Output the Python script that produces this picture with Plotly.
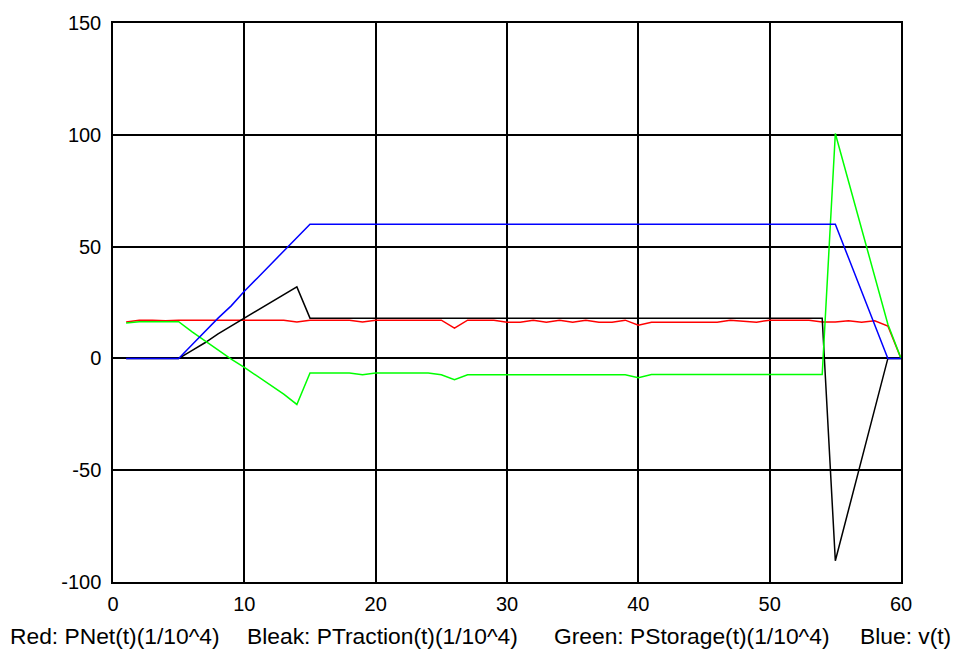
import plotly.graph_objects as go

# time axis (s)
t = list(range(1, 61))

# Net power (1/10^4)
p_net = [16.3, 17.1, 17.1, 16.8, 17.1, 17.1, 17.1, 17.1, 17.1, 17.1,
         17.1, 17.1, 17.1, 16.3, 17.1, 17.1, 17.1, 17.1, 16.3, 17.1,
         17.1, 17.1, 17.1, 17.1, 17.1, 13.5, 17.1, 17.1, 17.1, 16.2,
         16.2, 17.1, 16.2, 17.1, 16.2, 17.1, 16.2, 16.2, 17.1, 14.8,
         16.2, 16.2, 16.2, 16.2, 16.2, 16.2, 17.1, 16.8, 16.2, 17.1,
         17.1, 17.1, 17.1, 16.3, 16.3, 16.8, 16.2, 16.8, 14.5, 0.0]

# Traction power (1/10^4)
p_traction = [0, 0, 0, 0, 0, 3.5, 7, 11, 14.5, 18,
              21.5, 25, 28.5, 32, 18, 18, 18, 18, 18, 18,
              18, 18, 18, 18, 18, 18, 18, 18, 18, 18,
              18, 18, 18, 18, 18, 18, 18, 18, 18, 18,
              18, 18, 18, 18, 18, 18, 18, 18, 18, 18,
              18, 18, 18, 18, -90.5, -68, -45.5, -23, 0, 0]

# Storage power (1/10^4)
p_storage = [15.8, 16.4, 16.4, 16.4, 16.4, 12, 7.8, 3.6, -0.3, -4,
             -8, -12, -16, -20.6, -6.5, -6.5, -6.5, -6.5, -7.3, -6.5,
             -6.5, -6.5, -6.5, -6.5, -7.3, -9.5, -7.3, -7.3, -7.3, -7.3,
             -7.3, -7.3, -7.3, -7.3, -7.3, -7.3, -7.3, -7.3, -7.3, -8.6,
             -7.2, -7.2, -7.2, -7.2, -7.2, -7.2, -7.2, -7.2, -7.2, -7.2,
             -7.2, -7.2, -7.2, -7.2, 100.6, 79.5, 58.5, 37.5, 15.3, 0]

# Speed v(t)
speed = [0, 0, 0, 0, 0, 6, 12, 18, 23.5, 30,
         36, 42, 48, 54, 60, 60, 60, 60, 60, 60,
         60, 60, 60, 60, 60, 60, 60, 60, 60, 60,
         60, 60, 60, 60, 60, 60, 60, 60, 60, 60,
         60, 60, 60, 60, 60, 60, 60, 60, 60, 60,
         60, 60, 60, 60, 60, 45, 30, 15, 0, 0]

x_ticks = [0, 10, 20, 30, 40, 50, 60]
y_ticks = [-100, -50, 0, 50, 100, 150]
y_tick_text = ["-100", "-50", "0", "50", "100", "150"]

caption_parts = ["Red: PNet(t)(1/10^4)", "Bleak: PTraction(t)(1/10^4)",
                 "Green: PStorage(t)(1/10^4)", "Blue: v(t)"]

FONT = "Liberation Sans, Arial, sans-serif"
W, H = 962, 649
ML, MR, MT, MB = 113, 61, 20, 67

fig = go.Figure()
for y, color in [(p_net, "#ff0000"), (p_traction, "#000000"),
                 (p_storage, "#00ff00"), (speed, "#0000ff")]:
    fig.add_trace(go.Scatter(x=t, y=y, mode="lines",
                             line=dict(color=color, width=1.5),
                             showlegend=False, hoverinfo="skip"))

axis_common = dict(showgrid=True, gridcolor="#000000", gridwidth=1.5,
                   showline=True, mirror=True, linecolor="#000000", linewidth=1.5,
                   zeroline=False, ticks="",
                   tickfont=dict(family=FONT, size=20, color="#000000"))

fig.update_xaxes(range=[0, 60], tickvals=x_ticks, ticklabelstandoff=3, **axis_common)
fig.update_yaxes(range=[-100, 150], tickvals=y_ticks, ticktext=y_tick_text,
                 ticklabelstandoff=6, **axis_common)

# caption pieces, placed by pixel position of their left edge
plot_w = W - ML - MR
plot_h = H - MT - MB
caption_left_px = [9, 246, 553, 859]
for txt, px in zip(caption_parts, caption_left_px):
    fig.add_annotation(text=txt, xref="paper", yref="paper",
                       x=(px - ML) / plot_w, y=(H - MB - 636) / plot_h,
                       xanchor="left", yanchor="middle", showarrow=False,
                       borderpad=0,
                       font=dict(family=FONT, size=22.8, color="#000000"))

fig.update_layout(width=W, height=H,
                  margin=dict(l=ML, r=MR, t=MT, b=MB, pad=0),
                  paper_bgcolor="#ffffff", plot_bgcolor="#ffffff",
                  font=dict(family=FONT, color="#000000"))

fig.write_html("out.html", config={"displayModeBar": False})
